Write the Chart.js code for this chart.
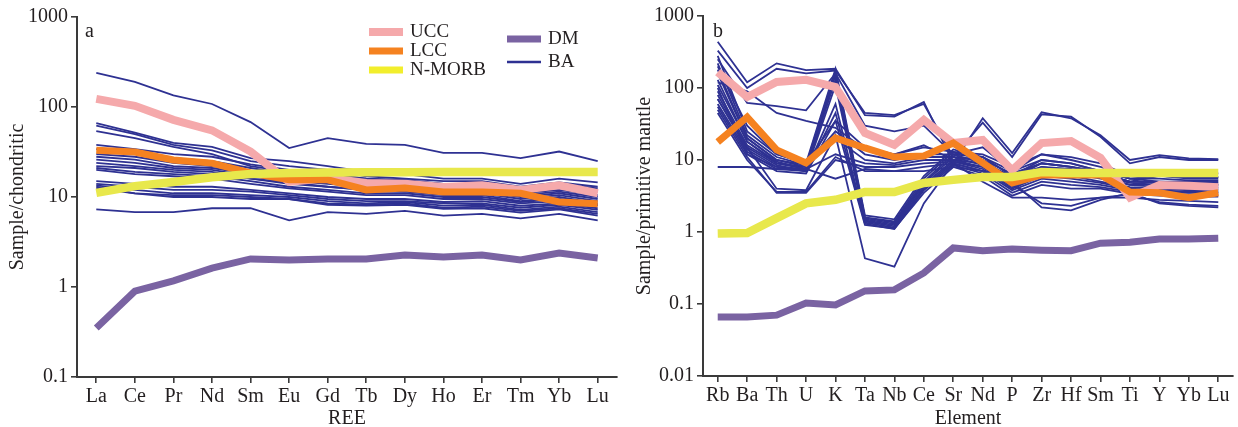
<!DOCTYPE html>
<html>
<head>
<meta charset="utf-8">
<script src="https://cdn.jsdelivr.net/npm/chart.js@4"></script>
<style>
  html, body { margin: 0; padding: 0; background: #fff; }
  #wrap { position: relative; width: 1238px; height: 427px; }
  .panel { position: absolute; top: 0; height: 427px; }
  #panelA { left: 0; width: 620px; }
  #panelB { left: 620px; width: 618px; }
</style>
</head>
<body>
<div id="wrap">
  <div class="panel" id="panelA"><canvas id="chartA"></canvas></div>
  <div class="panel" id="panelB"><canvas id="chartB"></canvas></div>
</div>
<script>
// ---- (a) chondrite-normalised REE ----
const reeLabels = ['La', 'Ce', 'Pr', 'Nd', 'Sm', 'Eu', 'Gd', 'Tb', 'Dy', 'Ho', 'Er', 'Tm', 'Yb', 'Lu'];
const reeTicks = [0.1, 1, 10, 100, 1000];
const reeUCC = [123, 103, 72, 55, 32, 14.7, 16.3, 14.3, 14, 12.9, 13.5, 12, 13.5, 11];
const reeLCC = [33, 31.6, 25.8, 23.8, 18.5, 15.5, 15.5, 12, 12.6, 11.4, 11.4, 11, 8.8, 8.4];
const reeNMORB = [11.1, 13.2, 14.7, 16.6, 18, 18.5, 18.7, 18.8, 18.8, 18.9, 18.9, 18.9, 18.9, 18.9];
const reeDM = [0.35, 0.9, 1.17, 1.62, 2.05, 2.0, 2.05, 2.05, 2.27, 2.15, 2.27, 2.0, 2.38, 2.1];
const reeBA = [
  [240, 190, 135, 108, 68, 35, 45, 39, 38, 31, 31, 27, 32, 25],
  [66, 52, 40, 36, 27, 25, 22, 19, 18, 16, 16, 14, 16, 14.5],
  [62, 50, 38, 33, 25, 22, 20, 17, 16, 15, 15, 13, 14.5, 13],
  [54, 45, 36, 30, 22, 19, 18, 16, 15, 14, 14, 12.5, 13.5, 12],
  [38, 34, 30, 28, 23, 20, 18, 16, 15.5, 14, 14, 12.5, 14, 12.5],
  [34, 31, 27, 25, 21, 18, 17, 15, 15, 13.5, 13.5, 12, 13, 11.5],
  [30, 28, 24, 22, 19, 17, 15, 14, 14, 12.5, 12.5, 11, 12, 10.5],
  [28, 26, 22, 21, 18, 16, 14.5, 13.5, 13, 12, 12, 10.5, 11.5, 10],
  [26, 24, 21, 20, 17, 15, 14, 13, 12.5, 11.5, 11.5, 10, 11, 9.5],
  [24, 22, 20, 19, 16, 14.5, 13, 12, 12, 11, 11, 9.5, 10.5, 9],
  [22, 21, 19, 18, 16, 14, 13, 12, 11.5, 10.5, 10.5, 9, 10, 8.5],
  [21, 19, 18, 17, 15, 13, 12, 11, 11, 10, 10, 8.8, 9.5, 8.2],
  [20, 18, 17, 16, 14, 12.5, 11.5, 10.5, 10.5, 9.5, 9.5, 8.5, 9, 8],
  [15, 14, 13, 13, 12, 11, 10, 9.5, 9.5, 8.8, 9, 8, 8.5, 7.5],
  [14, 13, 12, 12, 11.5, 10.5, 9.5, 9, 9, 8.5, 8.5, 7.6, 8.2, 7.2],
  [13.5, 12, 11, 11, 10.5, 10, 9, 8.5, 8.8, 8, 8.2, 7.2, 7.8, 6.8],
  [13, 11, 10.5, 10.5, 10, 9.5, 8.5, 8.2, 8.5, 7.6, 7.8, 7, 7.5, 6.5],
  [12.5, 11, 10, 10, 9.5, 9.5, 8.2, 8, 8.2, 7.4, 7.5, 6.7, 7.3, 6.2],
  [7.3, 6.8, 6.8, 7.5, 7.5, 5.5, 6.8, 6.5, 7, 6.2, 6.5, 5.8, 6.5, 5.5]
];

// ---- (b) primitive-mantle-normalised trace elements ----
const pmLabels = ['Rb', 'Ba', 'Th', 'U', 'K', 'Ta', 'Nb', 'Ce', 'Sr', 'Nd', 'P', 'Zr', 'Hf', 'Sm', 'Ti', 'Y', 'Yb', 'Lu'];
const pmTicks = [0.01, 0.1, 1, 10, 100, 1000];
const pmUCC = [166, 75, 121, 130, 103, 23.7, 16.2, 36, 17.2, 19, 7.2, 17.2, 18.3, 10.7, 3.0, 4.5, 4.4, 4.2];
const pmLCC = [17.8, 39.5, 13.8, 9.1, 20.2, 14.7, 11, 11.4, 17.2, 9.1, 4.8, 6.2, 6.2, 6.2, 3.6, 3.5, 3.0, 3.5];
const pmNMORB = [0.95, 0.97, 1.56, 2.5, 2.8, 3.6, 3.6, 4.8, 5.3, 5.8, 5.8, 6.8, 6.6, 6.6, 6.6, 6.6, 6.6, 6.6];
const pmDM = [0.066, 0.066, 0.07, 0.103, 0.097, 0.152, 0.157, 0.27, 0.6, 0.55, 0.58, 0.56, 0.55, 0.7, 0.72, 0.8, 0.8, 0.82];
const pmBA = [
  [440, 120, 220, 177, 185, 42, 40, 64, 9, 38, 12.5, 46, 38, 22, 10, 11.7, 10.5, 10.3],
  [330, 100, 185, 160, 175, 45, 42, 60, 11, 33, 11, 43, 40, 21, 9, 11, 10, 10],
  [250, 62, 56, 49, 160, 30, 25, 30, 12, 15, 7, 12, 11, 9, 6, 7, 6.5, 6.5],
  [120, 90, 45, 35, 28, 14, 12, 16, 10, 11, 6, 9, 8, 7, 5.5, 6, 5.8, 5.8],
  [8, 8, 7.5, 7.5, 5.5, 7.5, 7, 7, 8, 7, 6, 7, 6.5, 6.5, 5, 6, 5.8, 5.8],
  [280, 25, 12, 9, 185, 1.7, 1.5, 6, 14, 11, 6, 10, 9, 7, 5.5, 5, 5, 5],
  [220, 22, 11, 8.5, 170, 1.6, 1.4, 5.5, 13, 10, 5.5, 9, 8, 6.5, 5, 4.8, 4.5, 4.5],
  [180, 20, 10, 8, 160, 1.55, 1.35, 5, 12, 9, 5, 8, 7, 6, 4.8, 4.5, 4.2, 4.2],
  [130, 18, 9.5, 7.5, 150, 1.5, 1.3, 4.8, 11, 8.5, 4.5, 7, 6.5, 5.5, 4.5, 4.2, 4, 4],
  [90, 16, 9, 7.5, 130, 1.45, 1.25, 4.5, 10, 8, 4.2, 6.5, 6, 5, 4.2, 4, 3.8, 3.8],
  [80, 15, 8.5, 7, 110, 1.4, 1.2, 4.2, 9.5, 7.5, 4, 6, 5.5, 4.8, 4, 3.8, 3.6, 3.6],
  [70, 14, 8, 7, 60, 1.35, 1.15, 4, 9, 7, 3.8, 5.5, 5, 4.5, 3.8, 3.6, 3.5, 3.5],
  [60, 13, 7.5, 7, 45, 1.3, 1.1, 3.8, 8.5, 6.5, 3.5, 5, 4.5, 4.2, 3.6, 3.4, 3.3, 3.3],
  [55, 12, 7, 6.5, 35, 1.25, 1.12, 3.5, 8, 6, 3.2, 4.5, 4, 4, 3.4, 3.2, 3.1, 3.1],
  [70, 15, 4, 3.8, 22, 0.43, 0.33, 2.5, 9, 5, 3, 3, 2.8, 3, 3, 2.8, 2.7, 2.6],
  [200, 30, 12, 9, 35, 15, 12, 15, 13, 12, 8, 12, 10, 8, 6, 6, 5.5, 5.5],
  [160, 20, 10, 8.5, 25, 12, 10, 12, 12, 11, 7, 10, 9, 7, 5.5, 5.5, 5.2, 5.2],
  [110, 18, 9, 8, 20, 10, 9, 11, 11, 10, 6.5, 9, 8, 6.5, 5, 5, 4.8, 4.8],
  [100, 12, 8, 7.5, 12, 9, 8.5, 10, 10, 9, 6, 8, 7.5, 6, 4.5, 4.6, 4.5, 4.5],
  [50, 11, 3.5, 3.5, 10, 8, 8, 9, 9.5, 8, 5, 2.2, 2, 2.8, 3.5, 2.5, 2.3, 2.2],
  [45, 10, 3.6, 3.6, 11, 7, 7, 8, 9, 7, 4.5, 2.5, 2.3, 3, 3.3, 2.6, 2.4, 2.3]
];

const colBA = '#2e3192';
const colUCC = '#f5a9ab';
const colLCC = '#f58220';
const colNMORB = '#e8e84c';
const colDM = '#7a63a2';
const axisColor = '#3a3a3a';
const textColor = '#231f20';
const serif = '"Liberation Serif", "Times New Roman", serif';

// letters and the key are painted straight onto the canvas
const panelMarks = {
  id: 'panelMarks',
  afterDraw(chart, args, opts) {
    const ctx = chart.ctx;
    ctx.save();
    ctx.fillStyle = textColor;
    ctx.textBaseline = 'middle';
    ctx.font = '20px ' + serif;
    ctx.fillText(opts.letter, chart.chartArea.left + opts.dx, 32);
    if (opts.key) {
      ctx.font = '19px ' + serif;
      const rows = [
        ['UCC', colUCC, 8, 369, 32],
        ['LCC', colLCC, 7, 369, 51],
        ['N-MORB', '#f2ee2c', 7, 369, 70],
        ['DM', colDM, 7, 507, 39],
        ['BA', colBA, 2.6, 507, 62]
      ];
      rows.forEach(([txt, col, w, x, y]) => {
        ctx.strokeStyle = col;
        ctx.lineWidth = w;
        ctx.beginPath();
        ctx.moveTo(x, y);
        ctx.lineTo(x + 34, y);
        ctx.stroke();
        ctx.fillText(txt, x + 41, y);
      });
    }
    ctx.restore();
  }
};

function buildChart(id, p) {
  const datasets = p.ba.map(row => ({
    label: 'BA', data: row, borderColor: colBA, borderWidth: 1.8, order: 10
  }));
  datasets.push({ label: 'DM', data: p.dm, borderColor: colDM, borderWidth: 7, order: 4 });
  datasets.push({ label: 'UCC', data: p.ucc, borderColor: colUCC, borderWidth: 8, order: 3 });
  datasets.push({ label: 'LCC', data: p.lcc, borderColor: colLCC, borderWidth: 7, order: 2 });
  datasets.push({ label: 'N-MORB', data: p.nmorb, borderColor: colNMORB, borderWidth: 8.5, order: 1 });

  return new Chart(document.getElementById(id), {
    type: 'line',
    data: { labels: p.labels, datasets: datasets },
    options: {
      responsive: true,
      maintainAspectRatio: false,
      animation: false,
      layout: { padding: { top: p.top, right: p.right, left: 0, bottom: 0 } },
      elements: {
        point: { radius: 0, hoverRadius: 0 },
        line: { tension: 0, fill: false, borderCapStyle: 'butt' }
      },
      plugins: {
        legend: { display: false },
        tooltip: { enabled: false },
        panelMarks: { letter: p.letter, dx: p.letterDx, key: p.key }
      },
      scales: {
        x: {
          type: 'category',
          offset: true,
          afterFit: s => { s.height = p.xHeight; },
          ticks: { font: { family: serif, size: 20 }, color: textColor, padding: 2, autoSkip: false, maxRotation: 0 },
          grid: { drawOnChartArea: false, drawTicks: true, tickLength: 6, color: axisColor, lineWidth: 1.6, offset: false },
          border: { display: true, color: axisColor, width: 2 },
          title: { display: true, text: p.xTitle, color: textColor, font: { family: serif, size: 20, lineHeight: 1 }, padding: { top: 0, bottom: -2 } }
        },
        y: {
          type: 'logarithmic',
          min: p.ticks[0],
          max: p.ticks[p.ticks.length - 1],
          afterBuildTicks: s => { s.ticks = p.ticks.map(v => ({ value: v })); },
          afterFit: s => { s.width = p.yWidth; },
          ticks: { callback: v => String(v), font: { family: serif, size: 20 }, color: textColor, padding: 3 },
          grid: { drawOnChartArea: false, drawTicks: true, tickLength: 6, color: axisColor, lineWidth: 1.6 },
          border: { display: true, color: axisColor, width: 2 },
          title: { display: true, text: p.yTitle, color: textColor, font: { family: serif, size: 20, lineHeight: 1 }, padding: { top: p.yTitlePad, bottom: 0 } }
        }
      }
    },
    plugins: [panelMarks]
  });
}

buildChart('chartA', {
  labels: reeLabels, ticks: reeTicks, ba: reeBA, dm: reeDM, ucc: reeUCC, lcc: reeLCC, nmorb: reeNMORB,
  xTitle: 'REE', yTitle: 'Sample/chondritic', letter: 'a', letterDx: 8, key: true,
  top: 17, right: 3, xHeight: 50, yWidth: 77, yTitlePad: 8
});

buildChart('chartB', {
  labels: pmLabels, ticks: pmTicks, ba: pmBA, dm: pmDM, ucc: pmUCC, lcc: pmLCC, nmorb: pmNMORB,
  xTitle: 'Element', yTitle: 'Sample/primitive mantle', letter: 'b', letterDx: 10, key: false,
  top: 16, right: 5, xHeight: 51, yWidth: 83, yTitlePad: 15
});
</script>
</body>
</html>
